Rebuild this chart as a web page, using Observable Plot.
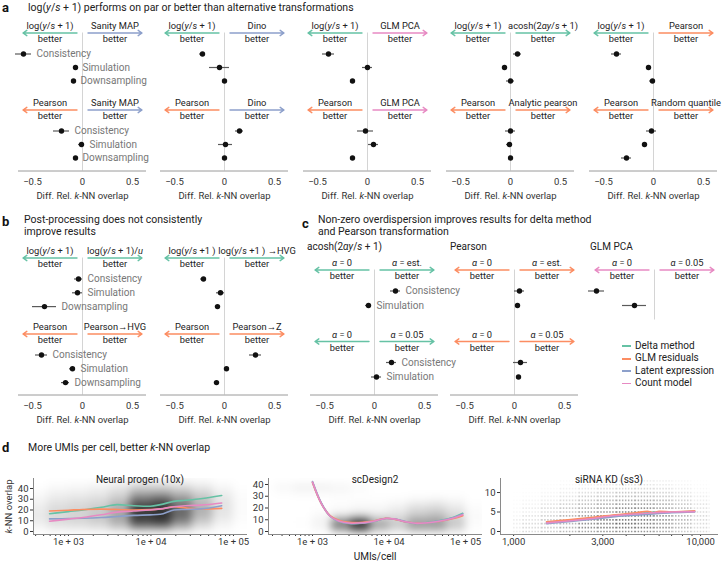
<!DOCTYPE html>
<html><head><meta charset="utf-8">
<script src="https://cdn.jsdelivr.net/npm/d3@7"></script>
<script src="https://cdn.jsdelivr.net/npm/@observablehq/plot@0.6"></script>
<style>
body{margin:0;background:#fff;}
#fig{position:relative;width:722px;height:564px;font-family:Roboto,"Open Sans",sans-serif;color:#222;overflow:hidden;background:#fff;}
.abs{position:absolute;white-space:nowrap;}
.abs svg{max-width:none !important;}
.ttl{font-size:10.5px;line-height:12.5px;color:#222;}
.let{font-size:13px;line-height:14px;font-weight:700;color:#111;}
.sub{font-size:10px;line-height:12px;color:#222;}
</style></head><body><div id="fig"></div>
<script>
// ---------------- DATA ----------------
const metrics3 = ["Consistency", "Simulation", "Downsampling"];
const metrics2 = ["Consistency", "Simulation"];
const legendMethods = ["Delta method", "GLM residuals", "Latent expression", "Count model"];
const legendColors = ["#66c2a5", "#fc8d62", "#8da0cb", "#e78ac3"];
const forestTicks = [-0.5, 0, 0.5];

// Panel a, top row: log(y/s+1) vs alternative
const aTopLeft = ["log(*y*/*s* + 1)", "log(*y*/*s* + 1)", "log(*y*/*s* + 1)", "log(*y*/*s* + 1)", "log(*y*/*s* + 1)"];
const aTopLeftMethod = ["Delta method", "Delta method", "Delta method", "Delta method", "Delta method"];
const aTopRight = ["Sanity MAP", "Dino", "GLM PCA", "acosh(2*αy*/*s* + 1)", "Pearson"];
const aTopRightMethod = ["Latent expression", "Latent expression", "Count model", "Delta method", "GLM residuals"];
const aTopMean = [[-0.59, -0.07, -0.09], [-0.22, -0.05, 0.0], [-0.39, 0.0, -0.15], [0.07, -0.06, 0.0], [-0.37, -0.05, -0.01]];
const aTopErr = [[0.08, 0.02, 0.02], [0.03, 0.1, 0.02], [0.06, 0.05, 0.02], [0.04, 0.02, 0.04], [0.05, 0.02, 0.03]];
// Panel a, bottom row: Pearson vs alternative
const aBotLeft = ["Pearson", "Pearson", "Pearson", "Pearson", "Pearson"];
const aBotLeftMethod = ["GLM residuals", "GLM residuals", "GLM residuals", "GLM residuals", "GLM residuals"];
const aBotRight = ["Sanity MAP", "Dino", "GLM PCA", "Analytic pearson", "Random quantile"];
const aBotRightMethod = ["Latent expression", "Latent expression", "Count model", "GLM residuals", "GLM residuals"];
const aBotMean = [[-0.21, -0.01, -0.07], [0.15, 0.01, 0.0], [-0.02, 0.06, -0.15], [0.0, -0.01, 0.0], [-0.02, -0.09, -0.27]];
const aBotErr = [[0.08, 0.03, 0.02], [0.04, 0.07, 0.02], [0.08, 0.05, 0.02], [0.05, 0.03, 0.02], [0.05, 0.02, 0.05]];

// Panel b
const bTopLeft = ["log(*y*/*s* + 1)", "log(*y*/*s* +1 )"];
const bTopRight = ["log(*y*/*s* + 1)/*u*", "log(*y*/*s* +1 ) →HVG"];
const bTopMethod = ["Delta method", "Delta method"];
const bTopMean = [[-0.04, -0.05, -0.38], [-0.21, -0.04, -0.07]];
const bTopErr = [[0.04, 0.05, 0.12], [0.03, 0.04, 0.02]];
const bBotLeft = ["Pearson", "Pearson"];
const bBotRight = ["Pearson→HVG", "Pearson→Z"];
const bBotMethod = ["GLM residuals", "GLM residuals"];
const bBotMean = [[-0.41, -0.10, -0.17], [0.31, 0.02, -0.08]];
const bBotErr = [[0.06, 0.03, 0.04], [0.06, 0.02, 0.02]];

// Panel c
const cTitles = ["acosh(2<i>αy</i>/<i>s</i> + 1)", "Pearson", "GLM PCA"];
const cMethod = ["Delta method", "GLM residuals", "Count model"];
const cTopLeft = ["*α* = 0", "*α* = 0", "*α* = 0"];
const cTopRight = ["*α* = est.", "*α* = est.", "*α* = 0.05"];
const cTopMean = [[0.21, -0.06], [0.05, 0.03], [-0.58, -0.2]];
const cTopErr = [[0.05, 0.03], [0.05, 0.02], [0.08, 0.12]];
const cBotLeft = ["*α* = 0", "*α* = 0"];
const cBotRight = ["*α* = 0.05", "*α* = 0.05"];
const cBotMean = [[0.17, 0.02], [0.06, 0.04]];
const cBotErr = [[0.05, 0.05], [0.07, 0.02]];

// Panel d: Neural progen (10x)
const neuralX = [590, 1000, 1500, 2500, 3900, 6200, 9800, 13000, 19000, 26000, 40000, 72000];
const neuralDelta = [16.5, 18.5, 20, 22.5, 25, 24, 23.5, 25, 28, 29, 30.5, 33.5];
const neuralGLM = [19, 19.8, 20.5, 20.8, 20.5, 20, 20.3, 21, 23, 22, 21, 21.5];
const neuralLatent = [11.7, 12, 12.3, 13, 14, 15, 15.5, 16, 20, 20.5, 21, 24];
const neuralCount = [9.5, 11.5, 13, 15.5, 18, 19, 20, 21, 23, 24, 24.5, 26.5];
const neuralXEdges = [316, 562, 1000, 1778, 3162, 5623, 10000, 17783, 31623, 56234, 100000, 177828];
const neuralYEdges = [0, 5, 10, 15, 20, 25, 30, 35, 40, 45, 50];
const neuralDensity = [ // rows: y bins from bottom (0-5) to top (45-50)
  [0.3, 0.8, 1.0, 1.2, 2.0, 4.0, 4.0, 2.5, 1.0, 0.3, 0.0],
  [0.8, 1.5, 1.6, 2.0, 3.5, 8.0, 8.5, 5.0, 2.0, 0.6, 0.1],
  [1.0, 1.8, 2.0, 2.5, 4.0, 9.0, 9.5, 6.5, 3.0, 1.0, 0.2],
  [1.0, 1.8, 2.0, 2.5, 4.0, 9.0, 9.5, 7.0, 3.5, 1.2, 0.2],
  [0.8, 1.5, 1.8, 2.2, 3.5, 8.5, 9.0, 6.5, 3.5, 1.2, 0.2],
  [0.6, 1.2, 1.5, 1.8, 3.0, 7.0, 8.0, 5.5, 3.0, 1.2, 0.2],
  [0.3, 0.8, 1.0, 1.2, 2.0, 5.0, 5.5, 4.0, 2.5, 1.0, 0.2],
  [0.2, 0.5, 0.6, 0.8, 1.5, 3.0, 3.0, 2.5, 1.5, 0.6, 0.1],
  [0.0, 0.2, 0.3, 0.5, 0.8, 1.5, 1.5, 1.2, 0.8, 0.3, 0.0],
  [0.0, 0.0, 0.0, 0.0, 0.3, 0.5, 0.5, 0.3, 0.2, 0.0, 0.0]
];

// Panel d: scDesign2
const scdX = [1000, 1300, 1700, 2200, 3000, 4500, 6500, 9000, 12000, 16000, 22000, 30000, 45000, 70000, 92000];
const scdDelta = [42, 24, 13, 9, 7, 7.3, 9, 11, 10.5, 8.5, 7, 7.5, 9.2, 12.2, 15.5];
const scdGLM = [41.5, 24, 13.5, 9.5, 7.8, 7.8, 9.2, 11.2, 10.3, 8.3, 7.2, 7.3, 8.5, 11, 13.5];
const scdLatent = [42.5, 24.5, 13, 8.7, 6.8, 7, 8.8, 11, 10.6, 8.6, 6.9, 7.2, 8.8, 11.8, 15];
const scdCount = [42, 24, 13, 9, 7.2, 7.4, 9, 11.1, 10.5, 8.5, 7, 7.3, 8.7, 11.5, 14.2];
const scdXEdges = [316, 562, 1000, 1778, 3162, 5623, 10000, 17783, 31623, 56234, 100000, 177828];
const scdYEdges = [0, 5, 10, 15, 20, 25, 30, 35, 40, 45];
const scdDensity = [
  [0.0, 0.0, 0.4, 5.0, 8.5, 3.5, 2.0, 4.0, 4.0, 2.0, 0.1],
  [0.0, 0.1, 0.6, 6.0, 9.5, 4.0, 2.5, 4.5, 4.5, 2.5, 0.2],
  [0.0, 0.0, 0.3, 1.2, 2.0, 1.2, 1.5, 2.5, 3.0, 1.8, 0.2],
  [0.0, 0.0, 0.1, 0.3, 0.5, 0.5, 0.9, 1.8, 2.0, 1.2, 0.2],
  [0.0, 0.0, 0.0, 0.1, 0.2, 0.2, 0.5, 1.0, 1.2, 0.7, 0.1],
  [0.0, 0.0, 0.0, 0.1, 0.1, 0.1, 0.1, 0.2, 0.3, 0.2, 0.0],
  [0.1, 0.2, 0.2, 0.2, 0.1, 0.0, 0.0, 0.0, 0.0, 0.0, 0.0],
  [0.4, 0.7, 0.7, 0.5, 0.2, 0.0, 0.0, 0.0, 0.0, 0.0, 0.0],
  [0.0, 0.0, 0.0, 0.0, 0.0, 0.0, 0.0, 0.0, 0.0, 0.0, 0.0]
];

// Panel d: siRNA KD (ss3)
const sirnaX = [1500, 2500, 3500, 4500, 5200, 5600, 6000, 7000, 9300];
const sirnaDelta = [2.3, 3.2, 4.0, 4.6, 4.8, 4.9, 4.95, 5.0, 5.2];
const sirnaGLM = [2.5, 3.5, 4.3, 4.8, 5.2, 4.8, 5.2, 5.0, 5.3];
const sirnaLatent = [2.0, 3.0, 3.8, 4.2, 4.4, 4.5, 4.6, 4.8, 5.0];
const sirnaCount = [2.2, 3.2, 4.1, 4.5, 4.7, 4.8, 4.9, 5.0, 5.1];
const sirnaXEdges = [1000, 1122, 1413, 1778, 2239, 2818, 3548, 4467, 5623, 7079, 8913, 11220];
const sirnaYLevels = [0, 1, 2, 3, 4, 5, 6, 7, 8, 9, 10, 11, 12, 13];
const sirnaDensity = [
  [1, 2, 3, 4, 5, 6, 6, 6, 5, 3, 2],
  [1, 2, 3, 4, 6, 7, 7, 7, 6, 4, 2],
  [1, 2, 3, 4, 6, 7, 8, 7, 6, 4, 2],
  [1, 1.5, 3, 4, 6, 7, 7, 7, 6, 4, 2],
  [0.5, 1.5, 2.5, 4, 5, 7, 7, 7, 6, 4, 2],
  [0.5, 1, 2, 3, 5, 6, 7, 7, 6, 4, 2],
  [0.3, 1, 2, 3, 4, 5, 6, 6, 5, 3.5, 1.5],
  [0.2, 0.6, 1.5, 2.5, 3.5, 4.5, 5, 5, 4.5, 3, 1.5],
  [0.2, 0.5, 1, 2, 3, 4, 4.5, 4.5, 4, 2.5, 1],
  [0.1, 0.3, 0.8, 1.5, 2.5, 3, 3.5, 3.5, 3, 2, 1],
  [0.1, 0.2, 0.5, 1, 1.8, 2.5, 3, 3, 2.5, 1.5, 0.6],
  [0, 0.1, 0.3, 0.7, 1.2, 1.8, 2, 2, 1.8, 1, 0.4],
  [0, 0.1, 0.2, 0.4, 0.8, 1.2, 1.5, 1.5, 1.2, 0.6, 0.2],
  [0, 0, 0.1, 0.2, 0.5, 0.8, 1, 1, 0.8, 0.4, 0.1]
];

// ---------------- HELPERS ----------------
const FONT = "Roboto, 'Open Sans', sans-serif";
const fig = document.getElementById("fig");
const colorOf = Object.fromEntries(legendMethods.map((m, i) => [m, legendColors[i]]));
const SVGNS = "http://www.w3.org/2000/svg";
let filterCount = 0;

function italicize(root) {
  root.querySelectorAll("text, tspan").forEach(el => {
    if (el.childNodes.length === 1 && el.firstChild.nodeType === 3 && el.textContent.includes("*")) {
      const parts = el.textContent.split("*");
      el.textContent = "";
      parts.forEach((p, i) => {
        if (!p) return;
        const t = document.createElementNS(SVGNS, "tspan");
        t.textContent = p;
        if (i % 2) t.setAttribute("font-style", "italic");
        el.appendChild(t);
      });
    }
  });
}
function place(node, left, top) {
  const d = document.createElement("div");
  d.className = "abs";
  d.style.left = left + "px";
  d.style.top = top + "px";
  node.style.maxWidth = "none";
  d.appendChild(node);
  fig.appendChild(d);
  italicize(node);
  return node;
}
// y is the vertical centre of the text block; lineH * lines gives its height
function html(content, x, y, cls, anchor, lineH = 12.5, lines = 1) {
  const d = document.createElement("div");
  d.className = "abs " + (cls || "");
  d.innerHTML = content;
  d.style.lineHeight = lineH + "px";
  d.style.top = (y - lineH * lines / 2) + "px";
  if (anchor === "middle") {
    d.style.left = (x - 100) + "px";
    d.style.width = "200px";
    d.style.textAlign = "center";
  } else {
    d.style.left = x + "px";
  }
  fig.appendChild(d);
  return d;
}
const fmtTick = d => d === 0 ? "0" : (d < 0 ? "\u2212" + Math.abs(d) : String(d));

function forest({zeroX, row0Y, rowPx, blocks, showText, axis, bottomPx}) {
  const u = rowPx;
  const H_LABEL = -27.5, H_ARROW = -21, H_BETTER = -14.5;
  const topPx = H_LABEL - 9;
  const sTop = topPx / u, sBot = bottomPx / u;
  const mb = axis ? 36 : 2;
  const innerH = bottomPx - topPx;
  const ml = 11, mr = 11, W = 150;
  const pts = [], arr = [], hdr = [];
  blocks.forEach(b => {
    const s0 = b.offsetPx / u;
    b.metrics.forEach((m, i) => pts.push({m, x: b.mean[i], e: b.err[i], y: s0 + i}));
    arr.push({x1: -0.055, x2: -0.595, y: s0 + H_ARROW / u, c: colorOf[b.leftMethod]});
    arr.push({x1: 0.055, x2: 0.595, y: s0 + H_ARROW / u, c: colorOf[b.rightMethod]});
    hdr.push({x: -0.325, y: s0 + H_LABEL / u, t: b.left});
    hdr.push({x: 0.325, y: s0 + H_LABEL / u, t: b.right});
    hdr.push({x: -0.325, y: s0 + H_BETTER / u, t: "better"});
    hdr.push({x: 0.325, y: s0 + H_BETTER / u, t: "better"});
  });
  const firstArrow = blocks[0].offsetPx / u + H_ARROW / u;
  const marks = [
    Plot.ruleX([0], {y1: firstArrow, y2: sBot, stroke: "#d4d4d4", strokeWidth: 1}),
    ...(axis ? [
      Plot.ruleY([sBot], {stroke: "#9a9a9a", strokeWidth: 1}),
      Plot.text(forestTicks, {x: d => d, y: sBot, dy: 11, text: fmtTick, fill: "#333", fontSize: 9.5}),
      Plot.text(["Diff. Rel. *k*-NN overlap"], {x: 0, y: sBot, dy: 25, text: d => d, fill: "#333", fontSize: 9.5})
    ] : []),
    ...arr.map(a => Plot.arrow([a], {x1: "x1", x2: "x2", y1: "y", y2: "y", stroke: a.c, strokeWidth: 1.4, headLength: 5, headAngle: 70})),
    Plot.text(hdr, {x: "x", y: "y", text: "t", fontSize: 9.3, fill: "#222"}),
    Plot.ruleY(pts, {y: "y", x1: d => d.x - d.e, x2: d => d.x + d.e, stroke: "#5a5a5a", strokeWidth: 1.2}),
    Plot.dot(pts, {x: "x", y: "y", r: 2.7, fill: "#111", stroke: "none"}),
    ...(showText ? [Plot.text(pts, {x: d => d.x + d.e, y: "y", text: "m", dx: 5, textAnchor: "start", fill: "#777", fontSize: 10})] : [])
  ];
  const p = Plot.plot({
    width: W, height: innerH + mb, marginLeft: ml, marginRight: mr, marginTop: 0, marginBottom: mb,
    style: {background: "transparent", overflow: "visible", fontFamily: FONT, fontSize: "9.5px", color: "#333", maxWidth: "none"},
    x: {domain: [-0.64, 0.64], axis: null},
    y: {domain: [sTop, sBot], range: [0, innerH], axis: null},
    marks
  });
  place(p, zeroX - ml - 64, row0Y + topPx);
}

// ---------------- PANEL A ----------------
const aZero = [81.5, 224, 367, 510, 653];
aZero.forEach((z, j) => forest({
  zeroX: z, row0Y: 53, rowPx: 13.5, axis: true, bottomPx: 117, showText: j === 0,
  blocks: [
    {offsetPx: 0, metrics: metrics3, left: aTopLeft[j], right: aTopRight[j], leftMethod: aTopLeftMethod[j], rightMethod: aTopRightMethod[j], mean: aTopMean[j], err: aTopErr[j]},
    {offsetPx: 77, metrics: metrics3, left: aBotLeft[j], right: aBotRight[j], leftMethod: aBotLeftMethod[j], rightMethod: aBotRightMethod[j], mean: aBotMean[j], err: aBotErr[j]}
  ]
}));

// ---------------- PANEL B ----------------
const bZero = [81.5, 224];
bZero.forEach((z, j) => forest({
  zeroX: z, row0Y: 278, rowPx: 13.8, axis: true, bottomPx: 116, showText: j === 0,
  blocks: [
    {offsetPx: 0, metrics: metrics3, left: bTopLeft[j], right: bTopRight[j], leftMethod: bTopMethod[j], rightMethod: bTopMethod[j], mean: bTopMean[j], err: bTopErr[j]},
    {offsetPx: 76, metrics: metrics3, left: bBotLeft[j], right: bBotRight[j], leftMethod: bBotMethod[j], rightMethod: bBotMethod[j], mean: bBotMean[j], err: bBotErr[j]}
  ]
}));

// ---------------- PANEL C ----------------
const cZero = [374, 514, 654];
cZero.forEach((z, j) => {
  const blocks = [{offsetPx: 0, metrics: metrics2, left: cTopLeft[j], right: cTopRight[j], leftMethod: cMethod[j], rightMethod: cMethod[j], mean: cTopMean[j], err: cTopErr[j]}];
  if (j < 2) blocks.push({offsetPx: 71.5, metrics: metrics2, left: cBotLeft[j], right: cBotRight[j], leftMethod: cMethod[j], rightMethod: cMethod[j], mean: cBotMean[j], err: cBotErr[j]});
  forest({zeroX: z, row0Y: 290, rowPx: 14.5, axis: j < 2, bottomPx: j < 2 ? 104 : 29, showText: j === 0, blocks});
});

// ---------------- PANEL D ----------------
function densityCells(xEdges, yEdges, dens) {
  const cells = [];
  dens.forEach((row, r) => row.forEach((v, c) => {
    if (v > 0) cells.push({x1: xEdges[c], x2: xEdges[c + 1], y1: yEdges[r], y2: yEdges[r + 1], v});
  }));
  return cells;
}
function bandCells(xEdges, levels, dens) {
  const cells = [];
  dens.forEach((row, r) => row.forEach((v, c) => {
    if (v > 0) cells.push({x1: xEdges[c], x2: xEdges[c + 1], y: levels[r], v});
  }));
  return cells;
}
function seriesRows(xs, ys) {
  const out = [];
  ys.forEach((arr, k) => arr.forEach((y, i) => out.push({x: xs[i], y, m: legendMethods[k]})));
  return out;
}
function addSvgBlur(svg, g, sd) {
  const id = "cloud-blur-" + (++filterCount);
  const defs = document.createElementNS(SVGNS, "defs");
  const f = document.createElementNS(SVGNS, "filter");
  f.setAttribute("id", id);
  f.setAttribute("x", "-20%"); f.setAttribute("y", "-30%");
  f.setAttribute("width", "140%"); f.setAttribute("height", "160%");
  const fe = document.createElementNS(SVGNS, "feGaussianBlur");
  fe.setAttribute("stdDeviation", sd);
  f.appendChild(fe); defs.appendChild(f); svg.insertBefore(defs, svg.firstChild);
  // wrap the group so the clip (on g) applies after the blur (on wrapper's child)
  const inner = document.createElementNS(SVGNS, "g");
  while (g.firstChild) inner.appendChild(g.firstChild);
  inner.setAttribute("filter", `url(#${id})`);
  g.appendChild(inner);
}
function scatterPanel({left, width, ml, xDomain, yDomain, yTicks, majors, minors, xFmt, cells, bands, opMax, blur, rows, curve, ylabel}) {
  const H = 94, mt = 8, mb = 30;
  const cloud = bands
    ? Plot.ruleY(cells, {y: "y", x1: "x1", x2: "x2", stroke: "#000", strokeOpacity: d => d.v / 10 * opMax, strokeWidth: 1.7, strokeDasharray: "1.5,1.5"})
    : Plot.rect(cells, {x1: "x1", x2: "x2", y1: "y1", y2: "y2", fill: "#000", fillOpacity: d => d.v / 10 * opMax, clip: true});
  const marks = [
    cloud,
    Plot.ruleY([yDomain[0]], {stroke: "#8a8a8a"}),
    Plot.ruleX([xDomain[0]], {stroke: "#8a8a8a"}),
    ...legendMethods.map((m, k) => Plot.line(rows.filter(d => d.m === m), {x: "x", y: "y", stroke: legendColors[k], strokeWidth: 1.6, curve})),
  ];
  const p = Plot.plot({
    width, height: H, marginLeft: ml, marginRight: 3, marginTop: mt, marginBottom: mb,
    style: {background: "transparent", overflow: "visible", fontFamily: FONT, fontSize: "9.5px", color: "#333", maxWidth: "none"},
    x: {type: "log", domain: xDomain, ticks: majors.concat(minors), tickFormat: d => majors.includes(d) ? xFmt(d) : "", tickSize: 2, tickPadding: 2, label: null},
    y: {domain: yDomain, ticks: yTicks, tickSize: 3, tickPadding: 2, label: ylabel || null, labelAnchor: "center", labelOffset: 28, labelArrow: false},
    opacity: {type: "identity"},
    marks
  });
  if (blur) {
    const g = p.querySelector('g[aria-label="rect"]');
    if (g) addSvgBlur(p, g, blur);
  }
  place(p, left, 470);
}
const sciFmt = d => "1e + 0" + Math.round(Math.log10(d));
const decMinor = (a, b) => { const o = []; for (let e = a; e <= b; e++) for (let k = 2; k <= 9; k++) o.push(k * 10 ** e); return o; };

scatterPanel({
  left: 0, width: 250, ml: 33, xDomain: [377, 147900], yDomain: [-2.8, 49.3], yTicks: [0, 10, 20, 30, 40],
  majors: [1e3, 1e4, 1e5], minors: decMinor(2, 4).filter(v => v > 377), xFmt: sciFmt,
  cells: densityCells(neuralXEdges, neuralYEdges, neuralDensity), opMax: 0.88, blur: 4.5,
  rows: seriesRows(neuralX, [neuralDelta, neuralGLM, neuralLatent, neuralCount]), curve: "monotone-x",
  ylabel: "*k*-NN overlap"
});
scatterPanel({
  left: 246, width: 239, ml: 22, xDomain: [266, 166700], yDomain: [-2.55, 45.1], yTicks: [0, 10, 20, 30, 40],
  majors: [1e3, 1e4, 1e5], minors: decMinor(2, 4).filter(v => v > 266), xFmt: sciFmt,
  cells: densityCells(scdXEdges, scdYEdges, scdDensity), opMax: 0.9, blur: 4,
  rows: seriesRows(scdX, [scdDelta, scdGLM, scdLatent, scdCount]), curve: "catmull-rom"
});
scatterPanel({
  left: 478, width: 243, ml: 22, xDomain: [851, 12470], yDomain: [-0.77, 13.6], yTicks: [0, 5, 10],
  majors: [1000, 3000, 10000], minors: [2000, 4000, 5000, 6000, 7000, 8000, 9000], xFmt: d3.format(","),
  cells: bandCells(sirnaXEdges, sirnaYLevels, sirnaDensity), bands: true, opMax: 0.7, blur: 0,
  rows: seriesRows(sirnaX, [sirnaDelta, sirnaGLM, sirnaLatent, sirnaCount]), curve: "monotone-x"
});

// ---------------- TEXT ----------------
html("a", 2, 8, "let", null, 14);
html("log(<i>y</i>/<i>s</i> + 1) performs on par or better than alternative transformations", 28, 8, "ttl");
html("b", 2, 222, "let", null, 14);
html("Post-processing does not consistently<br>improve results", 24, 226, "ttl", null, 12.5, 2);
html("c", 302, 224, "let", null, 14);
html("Non-zero overdispersion improves results for delta method<br>and Pearson transformation", 318, 226, "ttl", null, 12.5, 2);
html(cTitles[0], 307, 247, "sub", null, 12);
html(cTitles[1], 450, 247, "sub", null, 12);
html(cTitles[2], 590, 247, "sub", null, 12);
html("d", 2, 448, "let", null, 14);
html("More UMIs per cell, better <i>k</i>-NN overlap", 28, 448, "ttl");
html("Neural progen (10x)", 140, 480, "sub", "middle", 12);
html("scDesign2", 375, 480, "sub", "middle", 12);
html("siRNA KD (ss3)", 609, 480, "sub", "middle", 12);
html("UMIs/cell", 375, 557, "sub", "middle", 12);
legendMethods.forEach((m, i) => {
  html(`<span style="display:inline-block;width:9px;height:1.8px;background:${legendColors[i]};vertical-align:middle;margin-right:4px"></span>${m}`, 622, 346 + i * 12.4, "sub", null, 12);
});
</script></body></html>
